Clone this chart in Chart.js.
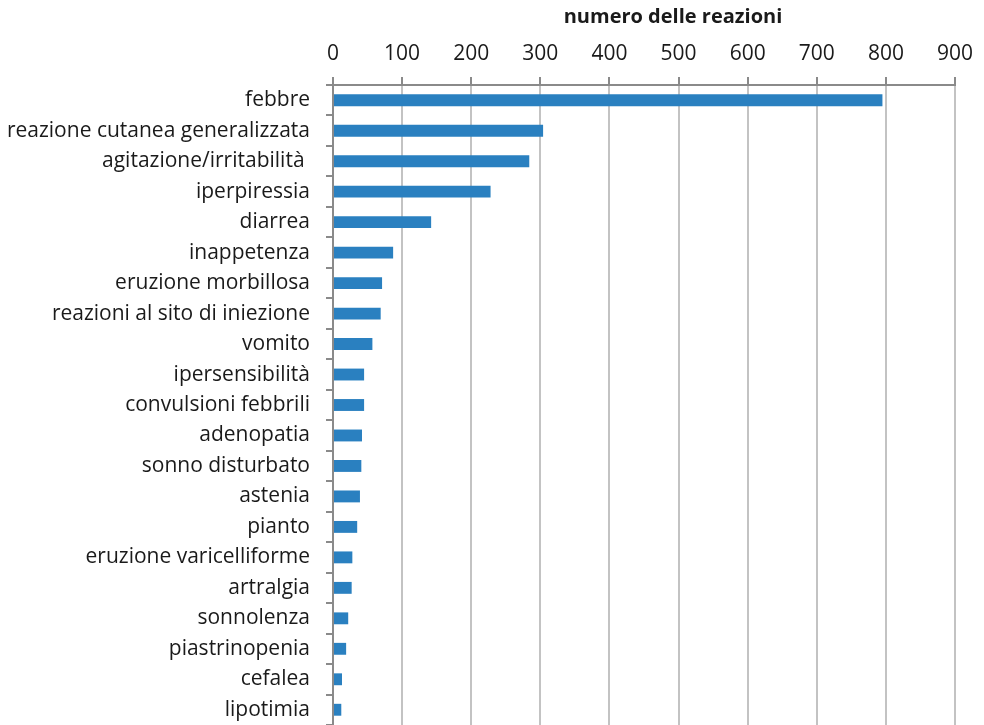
<!DOCTYPE html>
<html>
<head>
<meta charset="utf-8">
<script src="https://cdn.jsdelivr.net/npm/chart.js@4"></script>
<style>
  html, body { margin: 0; padding: 0; background: #fff; }
  #wrap { width: 984px; height: 725px; }
</style>
</head>
<body>
<div id="wrap"><canvas id="grafico"></canvas></div>
<script>
// dati
const categorie = [
    'febbre', 'reazione cutanea generalizzata', 'agitazione/irritabilità ', 'iperpiressia',
    'diarrea', 'inappetenza', 'eruzione morbillosa', 'reazioni al sito di iniezione',
    'vomito', 'ipersensibilità', 'convulsioni febbrili', 'adenopatia', 'sonno disturbato',
    'astenia', 'pianto', 'eruzione varicelliforme', 'artralgia', 'sonnolenza',
    'piastrinopenia', 'cefalea', 'lipotimia'
];
const numeroReazioni = [795, 304, 284, 228, 142, 87, 71, 69, 57, 45, 45, 42, 41, 39, 35, 28, 27, 22, 19, 13, 12];
const tickAsse = [0, 100, 200, 300, 400, 500, 600, 700, 800, 900];
const titoloAsse = 'numero delle reazioni';

const FONT = "'Open Sans', Lato, sans-serif";
const GRIGIO_GRIGLIA = '#c3c3c3';
const GRIGIO_ASSE = '#8a8a8a';

// titolo dell'asse: in Excel sta un po' a destra del centro dell'area
const titoloPlugin = {
    id: 'titoloAsse',
    afterDraw(chart) {
        const { ctx, chartArea } = chart;
        ctx.save();
        ctx.font = `bold 20px ${FONT}`;
        ctx.fillStyle = '#1a1a1a';
        ctx.textAlign = 'center';
        ctx.textBaseline = 'middle';
        ctx.fillText(titoloAsse, (chartArea.left + chartArea.right) / 2 + 29, 17);
        ctx.restore();
    }
};

new Chart(document.getElementById('grafico'), {
    type: 'bar',
    data: {
        labels: categorie,
        datasets: [{
            data: numeroReazioni,
            backgroundColor: '#2a80c0',
            borderWidth: 0,
            categoryPercentage: 1,
            barPercentage: 0.39
        }]
    },
    plugins: [titoloPlugin],
    options: {
        indexAxis: 'y',
        responsive: true,
        maintainAspectRatio: false,
        animation: false,
        layout: { padding: { left: 0, right: 29, top: 0, bottom: 0 } },
        plugins: { legend: { display: false }, tooltip: { enabled: false } },
        scales: {
            x: {
                position: 'top',
                min: 0, max: 900,
                afterBuildTicks: s => { s.ticks = tickAsse.map(v => ({ value: v })); },
                afterFit: s => { s.height = 85; s.paddingLeft = 0; s.paddingRight = 0; },
                grid: { color: GRIGIO_GRIGLIA, lineWidth: 2, tickLength: 8, tickColor: GRIGIO_ASSE, tickWidth: 2 },
                border: { display: true, color: GRIGIO_ASSE, width: 2 },
                ticks: { color: '#1a1a1a', font: { family: FONT, size: 21 }, padding: 10, maxRotation: 0 }
            },
            y: {
                afterFit: s => { s.width = 333; s.paddingTop = 0; s.paddingBottom = 0; },
                grid: { drawOnChartArea: false, tickLength: 7, color: GRIGIO_ASSE, tickColor: GRIGIO_ASSE, lineWidth: 2 },
                border: { display: true, color: GRIGIO_ASSE, width: 2 },
                ticks: { color: '#1a1a1a', font: { family: FONT, size: 21 }, padding: 16, autoSkip: false }
            }
        }
    }
});
</script>
</body>
</html>
